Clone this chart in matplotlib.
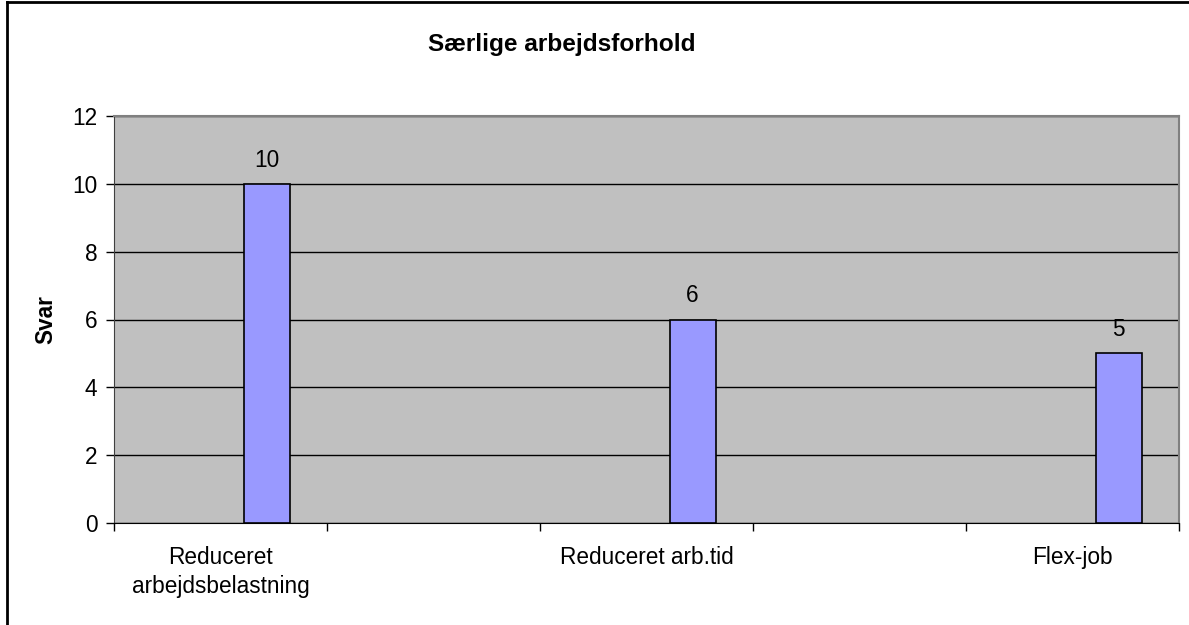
import matplotlib
matplotlib.use("Agg")
import matplotlib.pyplot as plt
from matplotlib.lines import Line2D

title = "Særlige arbejdsforhold"
ylabel = "Svar"
categories = ["Reduceret\narbejdsbelastning", "Reduceret arb.tid", "Flex-job"]
values = [10, 6, 5]
yticks = [0, 2, 4, 6, 8, 10, 12]

W, H = 1189, 625
fig = plt.figure(figsize=(W / 100, H / 100), dpi=100)
plt.rcParams['font.family'] = ['Liberation Sans', 'DejaVu Sans']
FS = 16.3

ax = fig.add_axes([114 / W, 1 - 523 / H, (1179 - 114) / W, (523 - 116) / H])
ax.set_facecolor("#C0C0C0")

# five category slots (labels on every second slot), bars as third series in cluster
nslots = 2 * len(categories) - 1
slot_pos = [2 * i for i in range(len(categories))]
bar_w = 46 / 213
offset = 46 / 213
xs = [p + offset for p in slot_pos]
bars = ax.bar(xs, values, width=bar_w, color="#9999FF", edgecolor="black",
              linewidth=1.2, zorder=3)
for x, v in zip(xs, values):
    ax.annotate(str(v), (x, v), xytext=(0, 17), textcoords="offset points",
                ha="center", va="center", fontsize=FS, zorder=4)

ax.set_xlim(-0.5, nslots - 0.5)
ax.set_ylim(0, 12)
ax.set_yticks(yticks)
ax.set_yticklabels([str(t) for t in yticks], fontsize=FS)
ax.yaxis.grid(True, color="black", linewidth=1.0, zorder=1)
ax.set_axisbelow(True)

# x ticks at slot boundaries, labels at slot centres
ax.set_xticks([i - 0.5 for i in range(nslots + 1)])
ax.set_xticklabels([])
ax.set_xticks(slot_pos, minor=True)
ax.set_xticklabels(categories, minor=True, fontsize=FS, linespacing=1.33)
ax.tick_params(axis="x", which="minor", length=0, pad=16.5)
ax.tick_params(axis="x", which="major", length=6, width=1, color="black", direction="out")
ax.tick_params(axis="y", length=6, width=1, color="black", direction="out", pad=6)

for s in ["top", "right"]:
    ax.spines[s].set_color("#808080")
    ax.spines[s].set_linewidth(1.5)
ax.spines["left"].set_color("#404040")
ax.spines["bottom"].set_color("black")

ax.set_ylabel(ylabel, fontsize=FS, fontweight="bold", labelpad=10.5)
fig.text(562 / W, 1 - 45 / H, title, ha="center", va="center",
         fontsize=17.6, fontweight="bold")

# chart-area border (left and top visible)
fig.add_artist(Line2D([6.5 / W, 6.5 / W], [0, 1 - 1.5 / H], color="black", linewidth=2))
fig.add_artist(Line2D([6.5 / W, 1], [1 - 1.5 / H, 1 - 1.5 / H], color="black", linewidth=2))

fig.savefig("out.png", dpi=100)
